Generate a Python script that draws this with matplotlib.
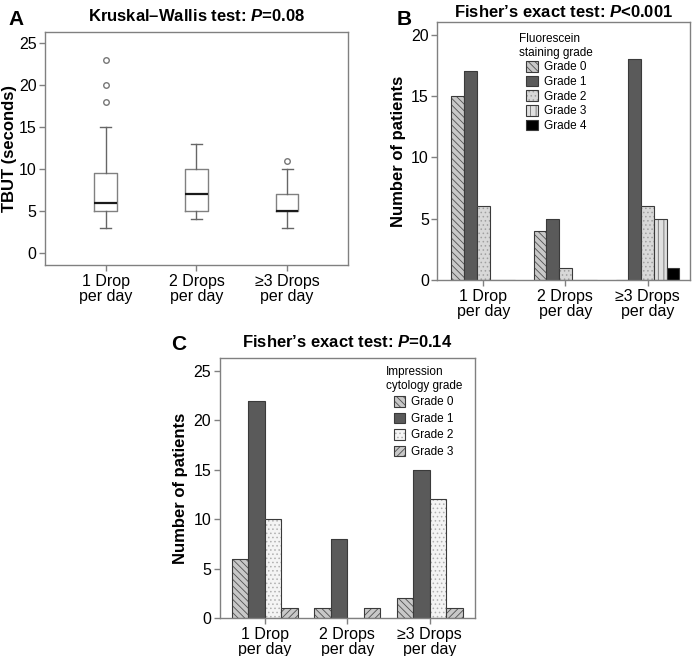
import matplotlib
matplotlib.use('Agg')
import matplotlib.pyplot as plt
from matplotlib.legend_handler import HandlerTuple
import numpy as np

plt.rcParams['font.family'] = ['Liberation Sans', 'DejaVu Sans']
plt.rcParams['mathtext.fontset'] = 'custom'
plt.rcParams['mathtext.rm'] = 'Liberation Sans'
plt.rcParams['mathtext.bf'] = 'Liberation Sans:bold'
plt.rcParams['mathtext.it'] = 'Liberation Sans:italic'
plt.rcParams['mathtext.bfit'] = 'Liberation Sans:bold:italic'
plt.rcParams['hatch.linewidth'] = 0.6

groups = ['1 Drop\nper day', '2 Drops\nper day', '\u22653 Drops\nper day']

# panel A - TBUT box plot summary (seconds)
tbut_low = [3, 4, 3]
tbut_q1 = [5, 5, 5]
tbut_med = [6, 7, 5]
tbut_q3 = [9.5, 10, 7]
tbut_high = [15, 13, 10]
tbut_out = [[18, 20, 23], [], [11]]

# panel B - fluorescein staining grade counts
fl_grades = ['Grade 0', 'Grade 1', 'Grade 2', 'Grade 3', 'Grade 4']
fl_counts = [
    [15, 4, 0],
    [17, 5, 18],
    [6, 1, 6],
    [0, 0, 5],
    [0, 0, 1],
]

# panel C - impression cytology grade counts
ic_grades = ['Grade 0', 'Grade 1', 'Grade 2', 'Grade 3']
ic_counts = [
    [6, 1, 2],
    [22, 8, 15],
    [10, 0, 12],
    [1, 1, 1],
]

fl_style = [('#c8c8c8', '#505050', '\\\\\\\\\\'),
            ('#5a5a5a', '#5a5a5a', None),
            ('#d8d8d8', '#a0a0a0', '....'),
            ('#e0e0e0', '#707070', '|||'),
            ('#000000', '#000000', None)]
ic_style = [('#c8c8c8', '#505050', '\\\\\\\\\\'),
            ('#5a5a5a', '#5a5a5a', None),
            ('#f4f4f4', '#b0b0b0', '....'),
            ('#c8c8c8', '#505050', '/////')]

spine_col = '#808080'


def style_axes(ax):
    for s in ax.spines.values():
        s.set_color(spine_col)
        s.set_linewidth(1.0)
    ax.tick_params(colors=spine_col, labelcolor='black', labelsize=11.5,
                   length=4, width=1)
    ax.tick_params(axis='x', top=False, pad=2.5)
    ax.tick_params(axis='y', right=False, pad=2)
    for lbl in ax.get_xticklabels():
        lbl.set_linespacing(1.0)


def grouped_bars(ax, counts, styles, width):
    x = np.arange(1, len(groups) + 1)
    n = len(counts)
    handles = []
    for i, vals in enumerate(counts):
        face, hcol, hatch = styles[i]
        pos = x + (i - (n - 1) / 2) * width
        b1 = ax.bar(pos, vals, width, color=face, edgecolor=hcol,
                    hatch=hatch, linewidth=0)
        b2 = ax.bar(pos, vals, width, fill=False, edgecolor='#3a3a3a',
                    linewidth=0.8)
        handles.append((b1[0], b2[0]))
    return handles


fig = plt.figure(figsize=(6.93, 6.56), dpi=100)

# ---- A
axA = fig.add_axes([0.065, 0.596, 0.437, 0.355])
stats = []
for i in range(3):
    stats.append(dict(whislo=tbut_low[i], q1=tbut_q1[i], med=tbut_med[i],
                      q3=tbut_q3[i], whishi=tbut_high[i],
                      fliers=tbut_out[i]))
axA.bxp(stats, positions=[1, 2, 3], widths=0.25, capwidths=0.12,
        boxprops=dict(color='#808080', linewidth=1),
        medianprops=dict(color='#1a1a1a', linewidth=1.6),
        whiskerprops=dict(color='#666666', linewidth=1),
        capprops=dict(color='#666666', linewidth=1),
        flierprops=dict(marker='o', markersize=4, markerfacecolor='white',
                        markeredgecolor='#777777', markeredgewidth=1))
axA.set_xlim(0.33, 3.67)
axA.set_ylim(-1.43, 26.3)
axA.set_yticks([0, 5, 10, 15, 20, 25])
axA.set_xticks([1, 2, 3])
axA.set_xticklabels(groups)
axA.set_ylabel('TBUT (seconds)', fontsize=12, fontweight='bold')
axA.yaxis.set_label_coords(-0.092, 0.5)
axA.set_title('Kruskal\u2013Wallis test: $\\bfit{P}$=0.08', fontsize=12,
              fontweight='bold', pad=8)
style_axes(axA)
fig.text(0.012, 0.985, 'A', fontsize=15, fontweight='bold', va='top')

# ---- B
axB = fig.add_axes([0.631, 0.573, 0.365, 0.393])
hB = grouped_bars(axB, fl_counts, fl_style, 0.155)
axB.set_xlim(0.44, 3.52)
axB.set_ylim(0, 21)
axB.set_yticks([0, 5, 10, 15, 20])
axB.set_xticks([1, 2, 3])
axB.set_xticklabels(groups)
axB.set_ylabel('Number of patients', fontsize=12, fontweight='bold')
axB.set_title('Fisher\u2019s exact test: $\\bfit{P}$<0.001', fontsize=12,
              fontweight='bold', pad=4)
style_axes(axB)
axB.legend(hB, fl_grades, title='Fluorescein\nstaining grade',
           loc='upper center', bbox_to_anchor=(0.47, 1.0),
           frameon=False, fontsize=8.5, title_fontsize=8.5,
           handlelength=1.0, handleheight=1.0, handletextpad=0.5,
           labelspacing=0.2,
           handler_map={tuple: HandlerTuple(ndivide=1, pad=0)})
fig.text(0.573, 0.985, 'B', fontsize=15, fontweight='bold', va='top')

# ---- C
axC = fig.add_axes([0.317, 0.058, 0.368, 0.396])
hC = grouped_bars(axC, ic_counts, ic_style, 0.2)
axC.set_xlim(0.455, 3.545)
axC.set_ylim(0, 26.3)
axC.set_yticks([0, 5, 10, 15, 20, 25])
axC.set_xticks([1, 2, 3])
axC.set_xticklabels(groups)
axC.set_ylabel('Number of patients', fontsize=12, fontweight='bold')
axC.set_title('Fisher\u2019s exact test: $\\bfit{P}$=0.14', fontsize=12,
              fontweight='bold', pad=8)
style_axes(axC)
axC.legend(hC, ic_grades, title='Impression\ncytology grade',
           loc='upper center', bbox_to_anchor=(0.80, 1.01),
           frameon=False, fontsize=8.5, title_fontsize=8.5,
           handlelength=1.0, handleheight=1.0, handletextpad=0.5,
           labelspacing=0.35,
           handler_map={tuple: HandlerTuple(ndivide=1, pad=0)})
fig.text(0.247, 0.49, 'C', fontsize=15, fontweight='bold', va='top')

fig.savefig('out.png', dpi=100)
